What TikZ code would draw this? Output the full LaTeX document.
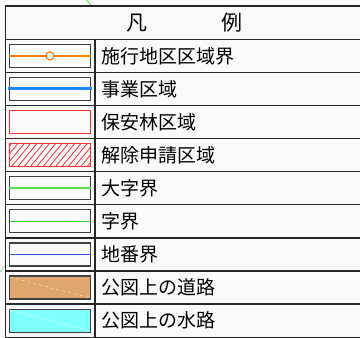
\documentclass[tikz,border=0pt]{standalone}
\usepackage{fontspec}
\setmainfont{Noto Sans CJK JP}
\usetikzlibrary{calc}

\definecolor{paper}{HTML}{FAFAFA}
\definecolor{sekoorange}{HTML}{FF8000}
\definecolor{jigyoblue}{HTML}{1E88FF}
\definecolor{hoanred}{HTML}{FF3030}
\definecolor{oazagreen}{HTML}{55DD55}
\definecolor{azagreen}{HTML}{33CC33}
\definecolor{chibanblue}{HTML}{3355DD}
\definecolor{dorotan}{HTML}{DFA66E}
\definecolor{suirocyan}{HTML}{80FFFF}

\tikzset{
    rule/.style={line width=1.3pt, black!85},
    swatch/.style={draw=black!75, line width=1.2pt},
    legtext/.style={anchor=west, inner sep=0pt, font=\fontsize{19}{19}\selectfont},
}

\begin{document}
\begin{tikzpicture}[x=1pt, y=-1pt]

    \useasboundingbox (0,0) rectangle (360,338);
    \fill[paper] (0,0) rectangle (360,338);
    % bits of the map behind the legend
    \draw[azagreen, thin] (86,0) -- (92,6);
    \draw[azagreen, thin] (0,272) -- (5.7,265);

    % Draw the table frame and the rows
    \draw[rule] (365,6) -- (5.7,6) -- (5.7,337.2) -- (365,337.2);
    \foreach \k in {0,...,8}
        \draw[rule] (5.7,39.3+\k*33.1) -- (365,39.3+\k*33.1);
    \draw[rule] (95,39.3) -- (95,337.2);
    \node[inner sep=0pt, font=\fontsize{21}{21}\selectfont] (title) at (184.5,22.7) {凡\hspace{74pt}例};

    % row 1
    \draw[swatch] (9.3,44.3) rectangle (90.7,67.3);
    \draw[sekoorange, line width=1.3pt] (9.3,55.85) -- (90.7,55.85);
    \draw[sekoorange, line width=1.2pt, fill=paper] (50,55.85) circle (4);
    \node[legtext] (seko) at (101,55.85) {施行地区区域界};

    % row 2
    \draw[swatch] (9.3,77.4) rectangle (90.7,100.4);
    \draw[jigyoblue, line width=3pt] (8,88.95) -- (91.7,88.95);
    \node[legtext] (jigyo) at (101,88.95) {事業区域};

    % row 3
    \draw[hoanred, line width=1.1pt] (9.3,110.5) rectangle (90.7,133.5);
    \node[legtext] (hoan) at (101,122.05) {保安林区域};

    % row 4
    \begin{scope}
        \clip (9.3,143.6) rectangle (90.7,166.6);
        \foreach \s in {-20,-13.7,...,90}
            \draw[hoanred, line width=0.8pt] (\s,166.6) -- ++(19,-23);
    \end{scope}
    \draw[hoanred, line width=1.1pt] (9.3,143.6) rectangle (90.7,166.6);
    \node[legtext] (kaijo) at (101,155.15) {解除申請区域};

    % row 5
    \draw[swatch] (9.3,176.7) rectangle (90.7,199.7);
    \draw[oazagreen, line width=1.8pt] (9.3,188.25) -- (90.7,188.25);
    \node[legtext] (oaza) at (101,188.25) {大字界};

    % row 6
    \draw[swatch] (9.3,209.8) rectangle (90.7,232.8);
    \draw[azagreen, line width=1pt] (9.3,221.35) -- (90.7,221.35);
    \node[legtext] (aza) at (101,221.35) {字界};

    % row 7
    \draw[swatch] (9.3,242.9) rectangle (90.7,265.9);
    \draw[chibanblue, line width=1pt] (9.3,254.45) -- (90.7,254.45);
    \node[legtext] (chiban) at (101,254.45) {地番界};

    % row 8
    \draw[swatch, fill=dorotan] (9.3,276) rectangle (90.7,299);
    \draw[white!55!dorotan, dashed, line width=0.6pt] (10,277) -- (90,298);
    \node[legtext] (doro) at (101,287.55) {公図上の道路};

    % row 9
    \draw[swatch, fill=suirocyan] (9.3,309.1) rectangle (90.7,332.1);
    \draw[white!45!suirocyan, line width=0.6pt] (10,310) -- (90,331);
    \node[legtext] (suiro) at (101,320.65) {公図上の水路};

\end{tikzpicture}
\end{document}
